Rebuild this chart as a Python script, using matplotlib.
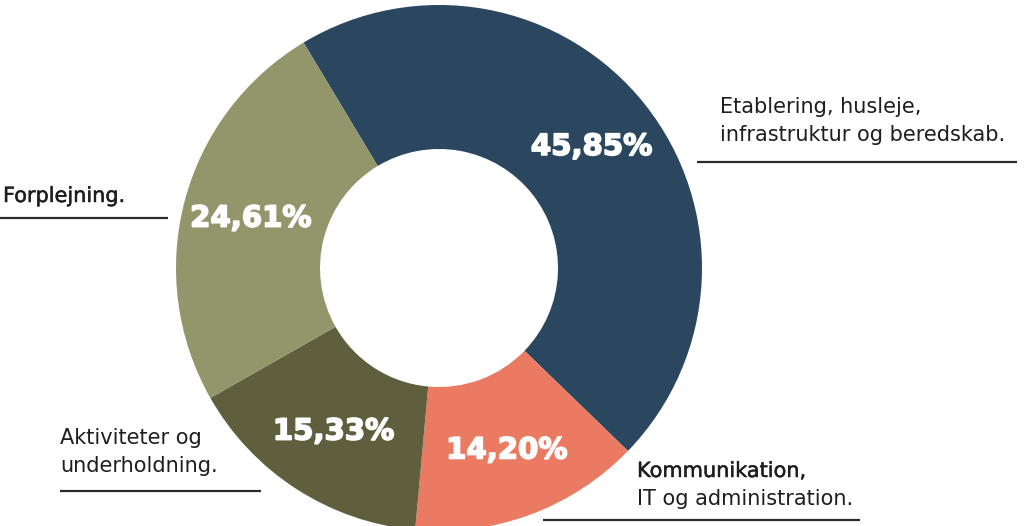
import matplotlib
matplotlib.use('Agg')
import matplotlib.pyplot as plt
import matplotlib.patheffects as pe

# data
categories = ['Etablering, husleje,\ninfrastruktur og beredskab.',
              'Kommunikation,\nIT og administration.',
              'Aktiviteter og\nunderholdning.',
              'Forplejning.']
values = [45.85, 14.20, 15.33, 24.61]
colors = ['#2a475f', '#ea7a62', '#5f5f3e', '#93956b']

W, H = 1024, 526
fig = plt.figure(figsize=(W / 100, H / 100), dpi=100)
ax = fig.add_axes([0, 0, 1, 1])

cx, cy, R, r = 439, H - 268, 263, 119

wedges, _, pct = ax.pie(values, colors=colors, startangle=121, counterclock=False,
                        center=(cx, cy), radius=R, frame=True,
                        wedgeprops=dict(width=R - r, linewidth=0),
                        autopct=lambda p: '{:.2f}%'.format(p).replace('.', ','),
                        pctdistance=0.74,
                        textprops=dict(color='white', fontsize=21, family='DejaVu Sans',
                                       weight='bold'))
for t in pct:
    t.set_path_effects([pe.withStroke(linewidth=1.2, foreground='white')])
ax.set_xlim(0, W)
ax.set_ylim(0, H)
ax.axis('off')

# outside labels: (text x, first baseline y, line x0, line x1, line y, first line medium)
lab = [(720, 113, 697, 1017, 162, False),
       (637, 477, 543, 860, 520, True),
       (60, 444, 60, 261, 491, False),
       (3, 202, 0, 168, 218, True)]
for txt, (tx, by, x0, x1, ly, med) in zip(categories, lab):
    for i, line in enumerate(txt.split('\n')):
        t = ax.text(tx, H - by - i * 28, line, fontsize=15, family='DejaVu Sans',
                    color='#1e1e1e', va='baseline', ha='left')
        if med and i == 0:
            t.set_path_effects([pe.withStroke(linewidth=0.35, foreground='#1e1e1e')])
    ax.plot([x0, x1], [H - ly, H - ly], color='#2b2b2b', linewidth=1.6,
            solid_capstyle='butt')

fig.savefig('out.png', dpi=100, facecolor='white')
